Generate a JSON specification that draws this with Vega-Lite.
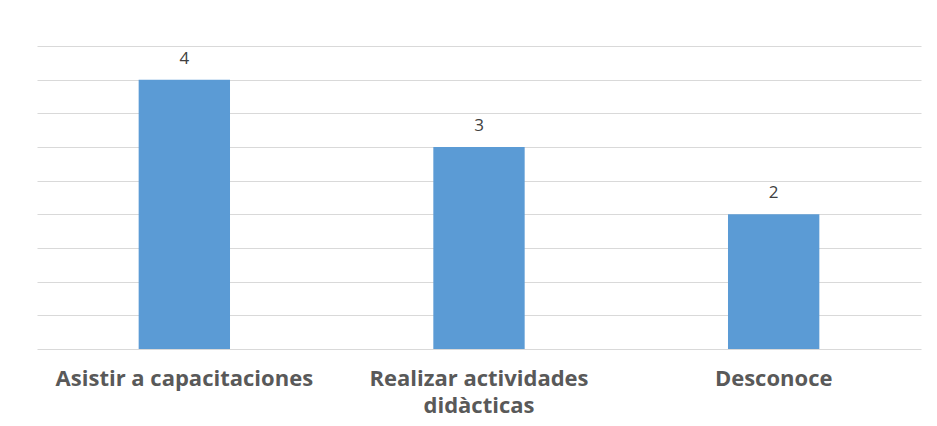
{
  "$schema": "https://vega.github.io/schema/vega-lite/v6.json",
  "width": 884,
  "height": 303,
  "autosize": {"type": "none"},
  "padding": {"left": 37, "top": 46, "right": 16, "bottom": 77},
  "background": "white",
  "config": {"view": {"stroke": null}},
  "data": {"values": [
    {"categoria": "Asistir a capacitaciones", "valor": 4},
    {"categoria": "Realizar actividades didàcticas", "valor": 3},
    {"categoria": "Desconoce", "valor": 2}
  ]},
  "encoding": {
    "x": {"field": "categoria", "type": "nominal", "sort": null,
      "scale": {"paddingInner": 0.69, "paddingOuter": 0.345},
      "axis": {"title": null, "labelAngle": 0, "domain": false, "ticks": false,
        "labelFont": "Open Sans", "labelFontWeight": "bold", "labelFontSize": 22,
        "labelColor": "#595959", "labelPadding": 19, "labelLineHeight": 27, "labelLimit": 0,
        "labelExpr": "datum.label == 'Realizar actividades didàcticas' ? ['Realizar actividades', 'didàcticas'] : datum.label"}},
    "y": {"field": "valor", "type": "quantitative",
      "scale": {"domain": [0, 4.5], "nice": false},
      "axis": {"title": null, "labels": false, "ticks": false, "domain": false,
        "values": [0, 0.5, 1, 1.5, 2, 2.5, 3, 3.5, 4, 4.5],
        "gridColor": "#d9d9d9", "gridWidth": 1}}
  },
  "layer": [
    {"mark": {"type": "bar", "color": "#5b9bd5"}},
    {"mark": {"type": "text", "dy": -21, "font": "Open Sans", "fontSize": 17, "color": "#404040"},
     "encoding": {"text": {"field": "valor", "type": "quantitative"}}}
  ]
}
